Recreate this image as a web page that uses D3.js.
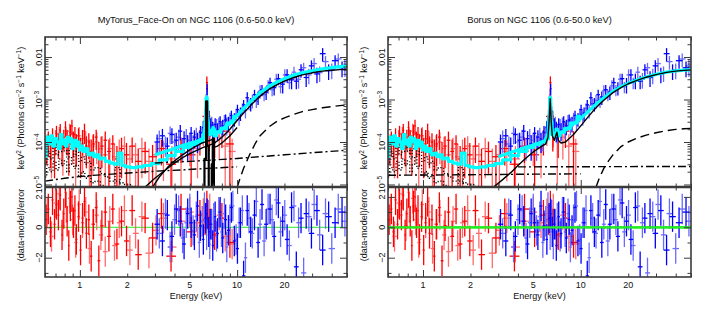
<!DOCTYPE html>
<html><head><meta charset="utf-8">
<script src="https://cdn.jsdelivr.net/npm/d3@7"></script>
<style>body{margin:0;background:#fff} text{font-family:"Liberation Sans",Arial,sans-serif;fill:#111}</style>
</head><body><svg id="c" width="707" height="327"></svg>
<script>
// ---------- DATA (flux values in units of 1e-5 keV^2 photons cm^-2 s^-1 keV^-1) ----------
const UNIT = 1e-5;
const titles = ["MyTorus_Face-On on NGC 1106 (0.6-50.0 keV)", "Borus on NGC 1106 (0.6-50.0 keV)"];
const xTickLabels = [1, 2, 5, 10, 20];
const xMajorTicks = [1, 10];
const xMinorTicks = [0.6, 0.7, 0.8, 0.9, 2, 3, 4, 5, 6, 7, 8, 9, 20, 30, 40, 50];
const yTopTickValues = [1e-5, 1e-4, 1e-3, 1e-2];
const yTopTickText = [["10", "\u22125"], ["10", "\u22124"], ["10", "\u22123"], ["0.01", ""]];
const yResTickValues = [-2, 0, 2];
const yResMinor = [-3, -1, 1];

// XMM (red)
const pnE = [0.61,0.63,0.65,0.67,0.69,0.71,0.73,0.75,0.77,0.79,0.81,0.83,0.85,0.87,0.89,0.91,0.93,0.95,0.98,1.01,1.04,1.07,1.10,1.14,1.18,1.22,1.27,1.32,1.38,1.45,1.53,1.62,1.72,1.84,1.98,2.15,2.35,2.6,2.9,3.3,3.8,4.4,5.1,5.8,6.25,6.42,6.65,7.2,8.0,9.0];
const pnF = [6,11,8,14,7,16,10,19,9,13,22,12,8,17,24,11,15,9,14,7,12,18,8,10,6,9,13,5,8,11,6,9,4,7,5,8,3.5,6,4.5,7,3,8,5,12,40,250,30,14,18,9];
const pnErr = [0.5,0.6,0.7,0.5,0.8,0.5,0.6,0.4,0.7,0.5,0.4,0.6,0.8,0.5,0.4,0.6,0.5,0.7,0.5,0.8,0.6,0.5,0.7,0.6,0.9,0.7,0.5,1.0,0.7,0.6,0.9,0.6,1.0,0.8,0.9,0.6,1.0,0.7,0.9,0.6,1.0,0.6,0.9,0.6,0.5,0.4,0.8,0.7,0.6,1.0];
const pnRes = [0.5,1.2,-0.3,1.8,0.2,1.5,0.8,2.1,-0.5,0.9,2.3,0.4,-1.2,1.4,2.0,0.3,1.1,-0.8,0.7,-1.5,0.6,1.7,-0.4,0.5,-1.9,0.2,1.3,-2.2,0.1,1.0,-0.6,1.2,-1.1,0.4,-0.9,1.1,-1.8,0.6,-0.7,0.9,-1.9,1.2,-0.3,0.8,0.5,1.4,0.2,-0.5,0.6,-1.0];
// XMM second camera (light red)
const mosE = [0.62,0.66,0.70,0.74,0.78,0.82,0.86,0.90,0.94,0.99,1.04,1.09,1.15,1.21,1.28,1.36,1.45,1.55,1.66,1.78,1.92,2.08,2.26,2.48,2.75,3.05,3.4,3.85,4.4,5.0,5.6,6.1,6.4,6.7,7.1,7.7,8.4,9.3];
const mosF = [9,7,12,15,8,13,18,10,7,14,9,11,6,8,10,7,5,7,4.5,6,8,4,5,7,3.5,5,6,4,6,9,7,20,120,25,10,13,8,6];
const mosErr = [0.7,0.8,0.6,0.5,0.8,0.6,0.5,0.7,0.9,0.6,0.8,0.6,0.9,0.8,0.7,0.9,1.0,0.8,1.0,0.9,0.7,1.0,0.9,0.8,1.0,0.9,0.8,1.0,0.9,0.7,0.8,0.6,0.5,0.7,0.9,0.7,0.9,1.0];
const mosRes = [1.0,-0.6,1.6,2.2,0.1,1.3,1.9,0.5,-1.0,1.5,0.3,1.0,-1.4,0.2,0.8,-0.5,-1.6,0.4,-1.2,0.3,1.1,-1.5,-0.4,0.7,-1.7,-0.2,0.6,-1.3,0.4,1.0,0.3,0.9,0.6,1.2,-0.4,0.8,-0.6,-1.1];
// NuSTAR FPMA (blue)
const faE = [3.1,3.35,3.6,3.85,4.1,4.35,4.6,4.85,5.1,5.35,5.6,5.85,6.1,6.3,6.45,6.6,6.8,7.0,7.25,7.5,7.8,8.1,8.45,8.8,9.2,9.6,10.05,10.5,11.0,11.6,12.2,12.9,13.6,14.4,15.3,16.2,17.2,18.3,19.5,20.8,22.2,23.8,25.5,27.5,29.7,32.2,35,38.2,42,46.5];
const faF = [10,14,8,15,11,18,12,9,16,13,11,17,22,45,180,40,25,20,26,19,30,24,33,28,42,35,58,48,75,110,80,130,115,170,150,250,190,310,230,380,290,270,500,330,620,400,1200,480,820,560];
const faErr = [0.5,0.45,0.6,0.4,0.5,0.4,0.5,0.6,0.4,0.45,0.5,0.4,0.4,0.35,0.3,0.4,0.45,0.5,0.4,0.45,0.35,0.4,0.35,0.4,0.3,0.35,0.3,0.35,0.3,0.35,0.35,0.3,0.35,0.3,0.35,0.3,0.35,0.3,0.4,0.35,0.4,0.35,0.35,0.4,0.35,0.4,0.35,0.4,0.35,0.4];
const faRes = [0.2,-0.9,0.8,-0.6,1.2,0.4,-1.1,0.9,0.3,-0.5,1.4,0.1,-0.8,0.6,0.9,-0.3,0.2,-1.2,0.7,-0.4,1.0,-0.7,0.5,-0.2,1.3,-0.9,-1.4,0.3,-3.2,1.1,-0.3,0.8,-1.0,1.5,0.2,1.2,-0.6,1.6,0.4,-0.8,1.3,-2.6,0.6,0.9,-0.4,1.1,-1.5,0.7,0.3,1.0];
// NuSTAR FPMB (light blue)
const fbE = [3.2,3.5,3.75,4.0,4.25,4.5,4.75,5.0,5.25,5.5,5.75,6.0,6.2,6.4,6.55,6.7,6.9,7.1,7.4,7.65,7.95,8.3,8.6,9.0,9.4,9.85,10.3,10.8,11.3,11.9,12.5,13.25,14.0,14.85,15.75,16.7,17.75,18.9,20.1,21.5,23,24.6,26.5,28.6,30.9,33.5,36.5,40,44,48.5];
const fbF = [12,9,16,10,13,8,14,11,9,15,12,16,30,130,50,22,28,18,24,27,21,31,26,36,30,45,40,62,55,80,95,90,160,130,210,170,300,200,380,250,440,300,560,380,700,430,780,500,900,620];
const fbErr = [0.55,0.5,0.45,0.6,0.5,0.55,0.45,0.5,0.6,0.45,0.5,0.45,0.4,0.3,0.35,0.45,0.4,0.5,0.45,0.4,0.45,0.4,0.45,0.35,0.4,0.35,0.4,0.3,0.35,0.3,0.35,0.3,0.35,0.3,0.35,0.3,0.35,0.3,0.35,0.3,0.35,0.4,0.3,0.4,0.35,0.4,0.35,0.4,0.35,0.45];
const fbRes = [-0.4,0.9,-1.3,0.5,1.1,-0.7,0.3,1.2,-0.2,0.7,-1.0,0.4,1.3,-0.5,0.8,-1.1,0.2,0.6,-0.6,1.0,-0.3,0.9,-1.3,0.5,1.4,-0.8,0.3,1.1,-2.0,0.6,-0.4,1.7,0.2,-0.9,1.2,0.5,1.8,-0.3,0.8,-1.2,1.4,0.3,-3.0,0.7,1.5,-0.5,0.9,-1.4,1.2,0.4];

// Model curves: XMM total (cyan, shared soft part)
const xmmTotE = [0.6,0.62,0.64,0.66,0.68,0.70,0.72,0.74,0.76,0.78,0.80,0.82,0.84,0.86,0.88,0.90,0.92,0.94,0.96,0.98,1.0,1.03,1.06,1.1,1.15,1.2,1.25,1.3,1.35,1.4,1.5,1.6,1.7,1.8,1.9,2.0,2.2,2.4,2.7,3.0,3.4,3.8,4.3,4.8,5.3,5.8,6.2,6.3,6.4,6.5,6.6,6.9,7.05,7.2,7.6,8.2,9,10];
const xmmTotF = [4.5,13,9,14,8,12,10,7,15,9,11,8,13,10,12,7,9,11,8,10,6.5,8,6,7,5,5.5,4.5,5,4,4.2,3.5,3.2,3.0,5.5,2.8,2.6,2.5,2.6,2.8,3.1,3.8,4.8,6,7.5,8.8,10,12,30,110,30,15,16,20,14,17,21,28,40];
// thermal (dotted) components
const thermE = [0.6,0.63,0.66,0.69,0.72,0.75,0.78,0.81,0.84,0.87,0.90,0.93,0.96,1.0,1.05,1.1,1.15,1.2,1.3,1.4,1.5,1.6,1.75,1.85,2.0,2.2,2.5,2.8,3.2];
const therm1F = [3,6,4,8,5,10,6,9,4,7,11,5,6,3.5,4.5,3,3.5,2.2,2.5,1.8,1.5,1.2,2.5,1.1,1.0,0.9,0.7,0.6,0.5];
const therm2F = [1.5,2.5,2,3.5,2.2,4,2.8,3.6,2,3,4.5,2.4,2.8,1.6,2,1.4,1.6,1.1,1.2,0.95,0.85,0.7,1.2,0.65,0.6,0.55,0.45,0.4,0.35];

// MyTorus
const mtNuTotE = [3,3.5,4,4.5,5,5.5,6,6.2,6.3,6.4,6.5,6.6,6.8,7.06,7.3,7.6,8,9,10,11,12,13,14,16,18,20,23,26,30,35,40,45,50];
const mtNuTotF = [5,6,7,8.3,9.3,10.2,12,18,40,115,40,20,16,22,17,17,20,28,42,62,85,112,145,205,260,310,375,425,475,525,565,595,615];
const mtNuTransE = [2.9,3.2,3.6,4,4.5,5,5.5,6,6.5,7.0,7.12,7.3,7.6,8,9,10,11,12,13,14,16,18,20,23,26,30,35,40,45,50];
const mtNuTransF = [0.87,1.5,2.5,3.6,5,6.5,8,9.5,10.5,11.5,9,10,11,13,20,32,48,68,92,120,175,225,270,330,380,425,465,490,505,515];
const mtXmmTransE = [2.6,3,3.5,4,4.5,5,5.5,6,6.5,7,7.12,7.5,8,9,10];
const mtXmmTransF = [0.87,1.4,2.2,3.2,4.3,5.3,6.3,7.3,8.2,9,7.5,8,9.5,14,22];
const mtLineEdges = [6.0,6.2,6.35,6.45,6.6,6.9,7.0,7.12,7.3];
const mtLineF = [0.3,4,90,8,0.3,3,12,0.3];
const mtReflE = [10,10.5,11,12,13,14,16,18,20,23,26,30,35,40,45,50];
const mtReflF = [0.85,1.5,2.4,5,9,14,23,31,37,45,52,58,64,68,72,75];
const mtScatXmmE = [0.6,0.8,1.1,1.6,2.2,3,4.5,6.5,10];
const mtScatXmmF = [1.2,1.4,1.6,1.75,1.9,2.05,2.2,2.4,2.6];
const mtScatNuE = [3,5,7.3,10,15,20,30,50];
const mtScatNuF = [3.2,3.5,3.8,4.1,4.6,5,5.6,6.4];

// Borus
const brNuTotE = [3,3.5,4,4.5,5,5.5,6,6.2,6.3,6.4,6.5,6.6,6.8,7.06,7.3,7.6,8,8.5,9,10,11,12,13,14,16,18,20,23,26,30,35,40,45,50];
const brNuTotF = [4.5,5.5,6.5,7.5,8.5,9.5,11,16,35,110,35,17,14,19,15,17,19,22,27,36,50,68,88,110,155,200,240,290,340,390,440,470,490,500];
const brNuTransE = [2.8,3.2,3.6,4,4.5,5,5.5,6,6.2,6.3,6.4,6.5,6.6,6.8,7.06,7.2,7.5,8,9,10,11,12,13,14,16,18,20,23,26,30,35,40,45,50];
const brNuTransF = [0.87,1.3,1.9,2.8,4.2,5.8,7.5,9,13,30,105,30,14,11,17,11,9.5,10,15,24,37,54,74,96,145,190,235,285,335,385,435,465,485,495];
const brReflE = [12.5,13,14,15,16,18,20,23,26,30,35,40,45,50];
const brReflF = [0.87,1.3,2.4,3.6,5,7.8,10,12.5,14.5,16.5,18.5,19.8,20.5,21];
const brScatXmmE = [0.6,2,5,10];
const brScatXmmF = [1.65,1.7,1.75,1.78];
const brScatNuE = [4,10,20,50];
const brScatNuF = [2.6,2.62,2.64,2.66];

// ---------- DRAWING ----------
const svg = d3.select("#c");
const defs = svg.append("defs");
const Y0 = 37, YM = 187, Y1 = 277;
const FS = 9;
const RED = "#ff0000", LRED = "#ff6a6a", BLUE = "#0000ff", LBLUE = "#6a6aff";

function edges(E){
  return E.map((e,i)=>{
    const lo = i>0 ? Math.sqrt(E[i-1]*e) : e*e/Math.sqrt(e*E[i+1]);
    const hi = i<E.length-1 ? Math.sqrt(e*E[i+1]) : e*e/Math.sqrt(E[i-1]*e);
    return [lo,hi];
  });
}

function panel(idx, x0, x1, models, resW){
  const id = "p"+idx;
  const x = d3.scaleLog().domain([0.6,50]).range([x0,x1]);
  const yT = d3.scaleLog().domain([8.73e-6,0.0296]).range([YM,Y0]);
  const yR = d3.scaleLinear().domain([-3.27,2.65]).range([Y1,YM]);
  defs.append("clipPath").attr("id",id+"t").append("rect").attr("x",x0).attr("y",Y0).attr("width",x1-x0).attr("height",YM-Y0);
  defs.append("clipPath").attr("id",id+"r").append("rect").attr("x",x0).attr("y",YM).attr("width",x1-x0).attr("height",Y1-YM);
  const gT = svg.append("g").attr("clip-path",`url(#${id}t)`);
  const gR = svg.append("g").attr("clip-path",`url(#${id}r)`);

  const sets = [
    {E:mosE,F:mosF,err:mosErr,res:mosRes,c:LRED},
    {E:pnE,F:pnF,err:pnErr,res:pnRes,c:RED},
    {E:fbE,F:fbF,err:fbErr,res:fbRes,c:LBLUE},
    {E:faE,F:faF,err:faErr,res:faRes,c:BLUE}
  ];
  gR.append("line").attr("x1",x0).attr("x2",x1).attr("y1",yR(0)).attr("y2",yR(0))
    .attr("stroke","#22ee22").attr("stroke-width",resW);
  sets.forEach(s=>{
    const ed = edges(s.E);
    const pts = s.E.map((e,i)=>({e, lo:ed[i][0], hi:ed[i][1], f:s.F[i]*UNIT, r:s.err[i], res:s.res[i]}));
    const gd = gT.append("g").attr("stroke",s.c).attr("stroke-width",1.3);
    gd.selectAll(".h").data(pts).join("line").attr("x1",d=>x(d.lo)).attr("x2",d=>x(d.hi)).attr("y1",d=>yT(d.f)).attr("y2",d=>yT(d.f));
    gd.selectAll(".v").data(pts).join("line").attr("x1",d=>x(d.e)).attr("x2",d=>x(d.e))
      .attr("y1",d=>yT(d.r<1 ? d.f*(1-d.r) : 1e-7)).attr("y2",d=>yT(d.f*(1+d.r)));
    const gr = gR.append("g").attr("stroke",s.c).attr("stroke-width",1.3);
    gr.selectAll(".h").data(pts).join("line").attr("x1",d=>x(d.lo)).attr("x2",d=>x(d.hi)).attr("y1",d=>yR(d.res)).attr("y2",d=>yR(d.res));
    gr.selectAll(".v").data(pts).join("line").attr("x1",d=>x(d.e)).attr("x2",d=>x(d.e)).attr("y1",d=>yR(d.res-1)).attr("y2",d=>yR(d.res+1));
  });
  if (resW >= 2) {
    gR.append("line").attr("x1",x0).attr("x2",x1).attr("y1",yR(0)).attr("y2",yR(0))
      .attr("stroke","#22ee22").attr("stroke-width",resW);
  }
  // models
  models.forEach(m=>{
    const pts = m.E.map((e,i)=>[e, Math.max(m.F[i]*UNIT, 1e-7)]);
    const ln = d3.line().x(d=>x(d[0])).y(d=>yT(d[1])).curve(m.curve || d3.curveLinear);
    gT.append("path").attr("d",ln(pts)).attr("fill","none").attr("stroke",m.c)
      .attr("stroke-width",m.w).attr("stroke-dasharray",m.dash||null).attr("stroke-linejoin","round");
  });

  // frame and ticks
  const fr = svg.append("g").attr("fill","none").attr("stroke","#3a3a3a");
  fr.append("rect").attr("x",x0).attr("y",Y0).attr("width",x1-x0).attr("height",Y1-Y0).attr("stroke-width",1.6);
  fr.append("line").attr("x1",x0).attr("x2",x1).attr("y1",YM).attr("y2",YM).attr("stroke-width",2.6);

  function tk(axis, scale, vals, len, tr){
    const g = svg.append("g").attr("transform",tr).call(axis(scale).tickValues(vals).tickSize(-len).tickFormat(""));
    g.select(".domain").remove();
    g.selectAll("line").attr("stroke","#3a3a3a").attr("stroke-width",1);
  }
  [[d3.axisTop,Y0],[d3.axisBottom,YM],[d3.axisTop,YM],[d3.axisBottom,Y1]].forEach(([a,p])=>{
    tk(a,x,xMajorTicks,7,`translate(0,${p})`);
    tk(a,x,xMinorTicks,3.5,`translate(0,${p})`);
  });
  const yMinorTop = [];
  [1e-5,1e-4,1e-3,1e-2].forEach(d=>{ for(let k=2;k<=9;k++){ const v=d*k; if(v>8.73e-6 && v<0.0296) yMinorTop.push(v);} });
  [[d3.axisLeft,x0],[d3.axisRight,x1]].forEach(([a,p])=>{
    tk(a,yT,yTopTickValues,7,`translate(${p},0)`);
    tk(a,yT,yMinorTop,3.5,`translate(${p},0)`);
    tk(a,yR,yResTickValues,7,`translate(${p},0)`);
    tk(a,yR,yResMinor,3.5,`translate(${p},0)`);
  });

  // x tick labels
  svg.append("g").selectAll("text").data(xTickLabels).join("text")
    .attr("x",d=>x(d)).attr("y",288).attr("text-anchor","middle").attr("font-size",FS).text(d=>d);
  svg.append("text").attr("x",(x0+x1)/2).attr("y",299).attr("text-anchor","middle").attr("font-size",FS).text("Energy (keV)");
  // title
  svg.append("text").attr("x",(x0+x1)/2).attr("y",23).attr("text-anchor","middle").attr("font-size",9.3).text(titles[idx]);
  // y tick labels (rotated)
  yTopTickValues.forEach((v,i)=>{
    const t = svg.append("text").attr("transform",`translate(${x0-3},${yT(v)}) rotate(-90)`)
      .attr("text-anchor","middle").attr("font-size",FS);
    t.append("tspan").text(yTopTickText[i][0]);
    if (yTopTickText[i][1]) t.append("tspan").attr("dy",-3.5).attr("font-size",6.5).text(yTopTickText[i][1]);
  });
  yResTickValues.forEach(v=>{
    svg.append("text").attr("transform",`translate(${x0-3},${yR(v)}) rotate(-90)`)
      .attr("text-anchor","middle").attr("font-size",FS).text(v<0 ? "\u2212"+Math.abs(v) : v);
  });
  // axis titles
  const yl = svg.append("text").attr("transform",`translate(${x0-21},108) rotate(-90)`).attr("text-anchor","middle").attr("font-size",FS);
  const parts = [["keV",0],["2",1],[" (Photons cm",0],["\u22122",1],[" s",0],["\u22121",1],[" keV",0],["\u22121",1],[")",0]];
  let up = false;
  parts.forEach(([s,sup])=>{
    const ts = yl.append("tspan").text(s);
    if (sup) ts.attr("font-size",6.5);
    if (sup && !up){ ts.attr("dy",-3.5); up=true; }
    else if (!sup && up){ ts.attr("dy",3.5); up=false; }
  });
  svg.append("text").attr("transform",`translate(${x0-21},225) rotate(-90)`).attr("text-anchor","middle").attr("font-size",FS).text("(data-model)/error");
}

const step = d3.curveStepAfter;
const mtModels = [
  {E:thermE,F:therm2F,c:"#000",w:1.4,dash:"1.2,2",curve:d3.curveStep},
  {E:thermE,F:therm1F,c:"#000",w:1.4,dash:"1.2,2",curve:d3.curveStep},
  {E:xmmTotE,F:xmmTotF,c:"#00ffff",w:3.2,curve:d3.curveStep},
  {E:mtNuTotE,F:mtNuTotF,c:"#00ffff",w:3.2},
  {E:mtXmmTransE,F:mtXmmTransF,c:"#000",w:1.4},
  {E:mtNuTransE,F:mtNuTransF,c:"#000",w:1.4},
  {E:mtLineEdges,F:mtLineF.concat([mtLineF[mtLineF.length-1]]),c:"#000",w:2.2,curve:step},
  {E:mtReflE,F:mtReflF,c:"#000",w:1.4,dash:"9,5"},
  {E:mtScatXmmE,F:mtScatXmmF,c:"#000",w:1.4,dash:"8,3,2,3"},
  {E:mtScatNuE,F:mtScatNuF,c:"#000",w:1.4,dash:"8,3,2,3"}
];
const brModels = [
  {E:thermE,F:therm2F,c:"#000",w:1.4,dash:"1.2,2",curve:d3.curveStep},
  {E:thermE,F:therm1F,c:"#000",w:1.4,dash:"1.2,2",curve:d3.curveStep},
  {E:xmmTotE,F:xmmTotF,c:"#00ffff",w:3.2,curve:d3.curveStep},
  {E:brNuTotE,F:brNuTotF,c:"#00ffff",w:3.2},
  {E:brNuTransE,F:brNuTransF,c:"#000",w:1.4},
  {E:brReflE,F:brReflF,c:"#000",w:1.4,dash:"9,5"},
  {E:brScatXmmE,F:brScatXmmF,c:"#000",w:1.4,dash:"8,3,2,3"},
  {E:brScatNuE,F:brScatNuF,c:"#000",w:1.4,dash:"8,3,2,3"}
];
panel(0, 45, 347, mtModels, 1);
panel(1, 388, 691, brModels, 2.2);
</script></body></html>
